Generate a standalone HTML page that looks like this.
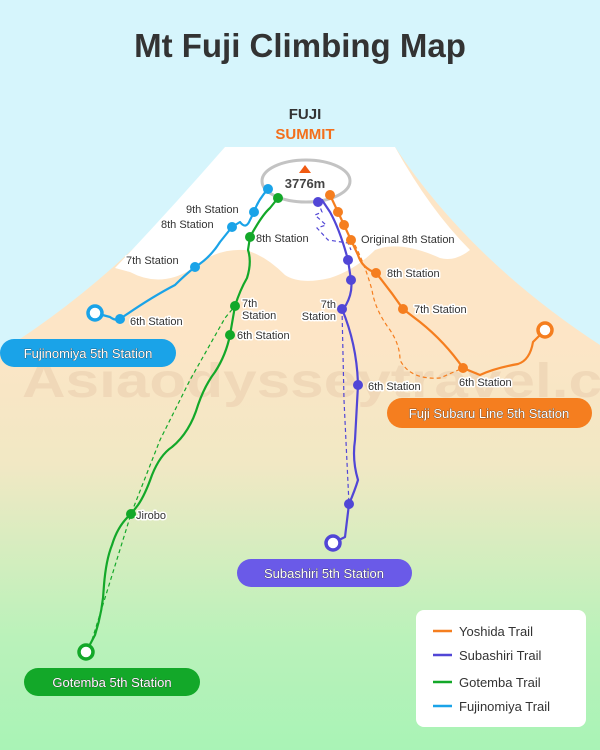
<!DOCTYPE html>
<html><head><meta charset="utf-8"><style>
html,body{margin:0;padding:0;width:600px;height:750px;overflow:hidden}
svg{display:block;font-family:"Liberation Sans",sans-serif}
.l{font-size:11px;fill:#333;paint-order:stroke;stroke:#fff;stroke-width:3px;stroke-linejoin:round}
.p{font-size:13px;fill:#fff;paint-order:stroke;stroke:#333;stroke-width:0.6px}
.g{font-size:13px;fill:#333}
</style></head><body>
<svg width="600" height="750" viewBox="0 0 600 750">
<defs>
<linearGradient id="mt" x1="0" y1="0" x2="0" y2="750" gradientUnits="userSpaceOnUse">
<stop offset="0.45" stop-color="#fde5c6"/><stop offset="0.62" stop-color="#f1e8c4"/><stop offset="0.85" stop-color="#baf2ba"/><stop offset="1" stop-color="#a9f3b6"/>
</linearGradient>
</defs>
<rect width="600" height="750" fill="#d6f5fc"/>
<path d="M0,352 Q130,270 225,147 L395,147 Q470,260 600,345 L600,750 L0,750 Z" fill="url(#mt)"/>
<path d="M115,268 Q170,210 225,147 L395,147 Q430,210 470,250 Q455,262 440,258 Q400,240 375,250 Q355,270 330,278 Q300,285 285,275 Q265,255 245,250 Q215,248 190,270 Q160,288 130,272 Z" fill="#fff"/>
<text x="22" y="397" font-size="48" font-weight="bold" fill="#f0d8b8" textLength="580" lengthAdjust="spacingAndGlyphs">Asiaodysseytravel.c</text>
<text x="300" y="57" text-anchor="middle" font-size="33" font-weight="bold" fill="#333">Mt Fuji Climbing Map</text>
<text x="305" y="119" text-anchor="middle" font-size="15" font-weight="bold" fill="#333">FUJI</text>
<text x="305" y="139" text-anchor="middle" font-size="15" font-weight="bold" fill="#f36f1c">SUMMIT</text>
<ellipse cx="306" cy="181" rx="44" ry="21" fill="#fff" stroke="#c3c3c3" stroke-width="3"/>
<path d="M305,165 L311,173 L299,173 Z" fill="#f05a12"/>
<text x="305" y="188" text-anchor="middle" font-size="13" font-weight="bold" fill="#444">3776m</text>
<g fill="none" stroke-width="1.2" stroke-dasharray="4,3">
<path d="M92,640 L131,514 L160,440 L190,380 L225,318 L235,306" stroke="#13a829"/>
<path d="M318,202 L322,212 L315,215 L326,225 L317,228 L328,240 L348,243 L351,250 M342,309 L344,400 L349,504" stroke="#5146d6"/>
<path d="M355,245 Q365,265 372,290 Q375,310 390,330 Q400,345 400,360 Q410,380 440,378 L463,368" stroke="#f57e1f"/>
</g>
<g fill="none" stroke-width="2.2" stroke-linejoin="round" stroke-linecap="round">
<path d="M95,313 L110,317 Q115,321 120,319 Q150,298 175,285 Q185,275 195,267 Q210,258 220,242 L232,227 L240,222 Q246,230 250,220 L254,212 Q258,200 268,189" stroke="#1aa3e8"/>
<path d="M86,652 L95,635 Q103,610 104,585 Q106,560 112,545 Q118,525 131,514 L138,505 Q145,495 152,475 Q160,455 172,447 Q190,432 198,405 Q205,385 215,372 Q226,355 230,335 L235,306 Q240,290 247,278 Q252,262 248,250 L250,237 Q262,215 270,208 L278,198" stroke="#13a829"/>
<path d="M333,543 L345,537 L349,504 Q355,490 358,480 Q352,460 355,440 L358,385 Q357,345 342,309 L346,305 Q353,292 351,280 L348,260 Q340,230 330,212 L322,200" stroke="#5146d6"/>
<path d="M545,330 L533,342 Q530,360 518,364 Q495,368 480,375 L463,368 Q445,342 420,322 L403,309 Q390,290 376,273 Q362,268 358,255 L351,240 L344,225 L338,212 L330,195" stroke="#f57e1f"/>
</g>
<g fill="#1aa3e8"><circle cx="120" cy="319" r="5"/><circle cx="195" cy="267" r="5"/><circle cx="232" cy="227" r="5"/><circle cx="254" cy="212" r="5"/><circle cx="268" cy="189" r="5"/></g>
<g fill="#13a829"><circle cx="131" cy="514" r="5"/><circle cx="230" cy="335" r="5"/><circle cx="235" cy="306" r="5"/><circle cx="250" cy="237" r="5"/><circle cx="278" cy="198" r="5"/></g>
<g fill="#5146d6"><circle cx="349" cy="504" r="5"/><circle cx="358" cy="385" r="5"/><circle cx="342" cy="309" r="5"/><circle cx="351" cy="280" r="5"/><circle cx="348" cy="260" r="5"/><circle cx="318" cy="202" r="5"/></g>
<g fill="#f57e1f"><circle cx="463" cy="368" r="5"/><circle cx="403" cy="309" r="5"/><circle cx="376" cy="273" r="5"/><circle cx="351" cy="240" r="5"/><circle cx="344" cy="225" r="5"/><circle cx="338" cy="212" r="5"/><circle cx="330" cy="195" r="5"/></g>
<circle cx="95" cy="313" r="7" fill="#fff" stroke="#1aa3e8" stroke-width="3.5"/>
<circle cx="86" cy="652" r="7" fill="#fff" stroke="#13a829" stroke-width="3.5"/>
<circle cx="333" cy="543" r="7" fill="#fff" stroke="#5146d6" stroke-width="3.5"/>
<circle cx="545" cy="330" r="7" fill="#fff" stroke="#f57e1f" stroke-width="3.5"/>
<text class="l" x="186" y="213">9th Station</text>
<text class="l" x="161" y="228">8th Station</text>
<text class="l" x="126" y="264">7th Station</text>
<text class="l" x="130" y="325">6th Station</text>
<text class="l" x="256" y="242">8th Station</text>
<text class="l" x="242" y="307">7th</text>
<text class="l" x="242" y="319">Station</text>
<text class="l" x="237" y="339">6th Station</text>
<text class="l" x="136" y="519" font-size="10">Jirobo</text>
<text class="l" x="336" y="308" text-anchor="end">7th</text>
<text class="l" x="336" y="320" text-anchor="end">Station</text>
<text class="l" x="368" y="390">6th Station</text>
<text class="l" x="361" y="243">Original 8th Station</text>
<text class="l" x="387" y="277">8th Station</text>
<text class="l" x="414" y="313">7th Station</text>
<text class="l" x="459" y="386">6th Station</text>
<rect x="0" y="339" width="176" height="28" rx="14" fill="#1aa3e8"/>
<text class="p" x="88" y="358" text-anchor="middle">Fujinomiya 5th Station</text>
<rect x="387" y="398" width="205" height="30" rx="15" fill="#f57e1f"/>
<text class="p" x="489" y="418" text-anchor="middle">Fuji Subaru Line 5th Station</text>
<rect x="237" y="559" width="175" height="28" rx="14" fill="#6a5ae8"/>
<text class="p" x="324" y="578" text-anchor="middle">Subashiri 5th Station</text>
<rect x="24" y="668" width="176" height="28" rx="14" fill="#13a829"/>
<text class="p" x="112" y="687" text-anchor="middle">Gotemba 5th Station</text>
<rect x="416" y="610" width="170" height="117" rx="8" fill="#fff"/>
<g stroke-width="2.5"><line x1="433" y1="631" x2="452" y2="631" stroke="#f57e1f"/><line x1="433" y1="655" x2="452" y2="655" stroke="#5146d6"/><line x1="433" y1="682" x2="452" y2="682" stroke="#13a829"/><line x1="433" y1="706" x2="452" y2="706" stroke="#1aa3e8"/></g>
<text class="g" x="459" y="636">Yoshida Trail</text>
<text class="g" x="459" y="660">Subashiri Trail</text>
<text class="g" x="459" y="687">Gotemba Trail</text>
<text class="g" x="459" y="711">Fujinomiya Trail</text>
</svg>
</body></html>
